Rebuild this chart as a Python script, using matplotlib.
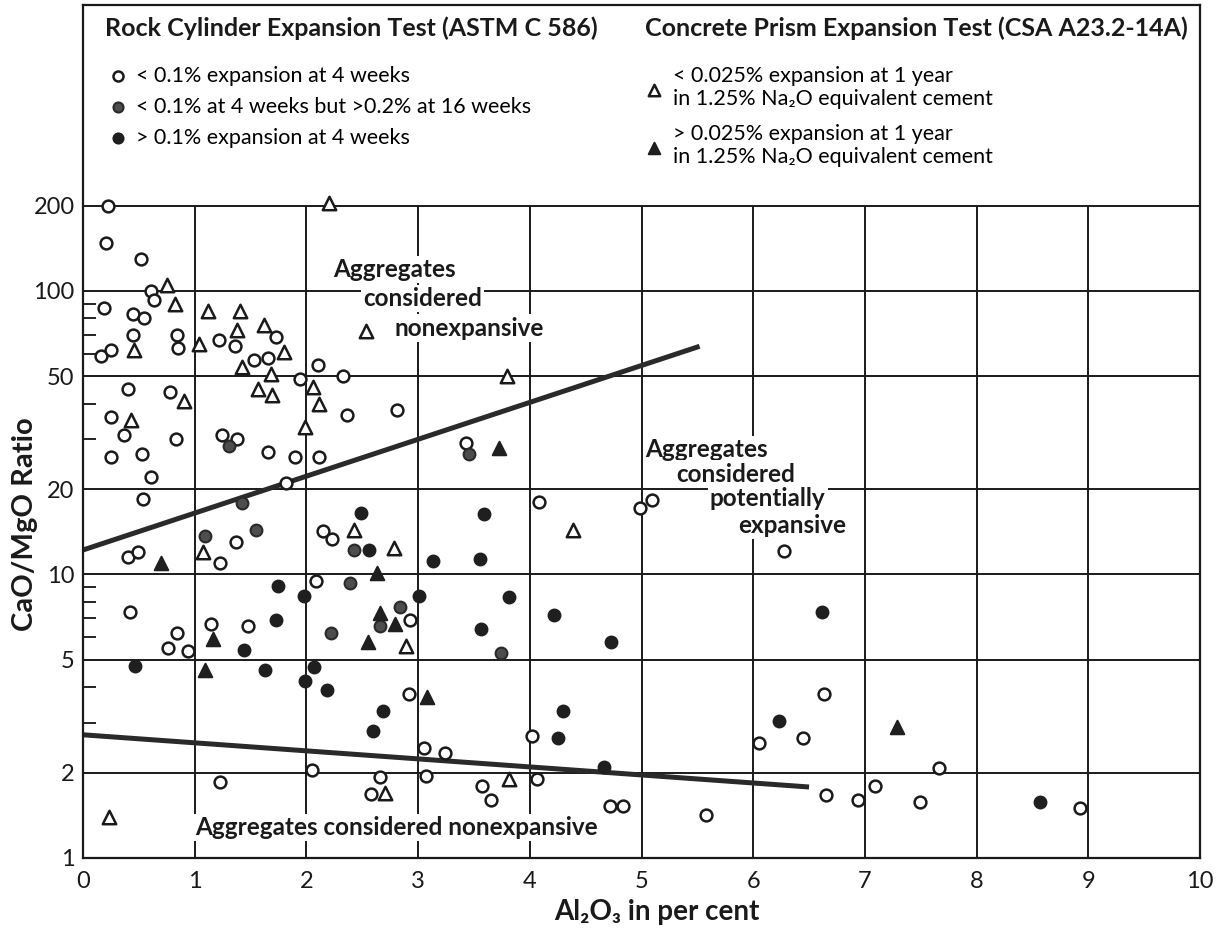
import matplotlib
matplotlib.use("Agg")
import matplotlib.pyplot as plt
from matplotlib.ticker import FixedLocator, NullFormatter

plt.rcParams['font.family'] = ['Lato', 'DejaVu Sans']

# Rock cylinder test: < 0.1% expansion at 4 weeks (open circles)
open_x = [0.22, 0.21, 0.52, 0.61, 0.64, 0.19, 0.45, 0.55, 0.45, 0.84, 0.85, 0.16, 0.25,
          1.22, 1.36, 1.73, 1.53, 1.66, 1.94, 2.10, 2.33, 0.40, 0.78, 0.25, 0.37, 0.83,
          0.25, 0.53, 0.61, 1.24, 1.38, 1.66, 1.90, 2.11, 2.36, 2.81, 1.82, 3.43, 0.54,
          0.40, 0.49, 1.23, 1.37, 2.15, 2.23, 2.09, 0.42, 0.84, 0.76, 0.94, 1.15, 1.48,
          2.93, 2.92, 4.08, 4.99, 5.09, 6.28, 1.23, 2.05, 2.66, 2.58, 3.05, 3.24, 3.07,
          3.57, 3.65, 4.02, 4.06, 4.72, 4.83, 6.63, 6.05, 6.45, 7.66, 7.09, 6.65, 6.94,
          7.49, 5.58, 8.93]
open_y = [200, 148, 130, 100, 93, 87, 83, 80, 70, 70, 63, 59, 62,
          67, 64, 69, 57, 58, 49, 55, 50, 45, 44, 36, 31, 30,
          26, 26.5, 22, 31, 30, 27, 26, 26, 36.5, 38, 21, 29, 18.5,
          11.5, 12, 11, 13, 14.2, 13.3, 9.5, 7.4, 6.2, 5.5, 5.35, 6.7, 6.6,
          6.9, 3.8, 18, 17.2, 18.3, 12.1, 1.85, 2.05, 1.93, 1.68, 2.45, 2.35, 1.95,
          1.8, 1.6, 2.7, 1.9, 1.52, 1.52, 3.8, 2.55, 2.65, 2.07, 1.8, 1.67, 1.6,
          1.58, 1.42, 1.5]

# < 0.1% at 4 weeks but > 0.2% at 16 weeks (half / grey circles)
half_x = [1.31, 3.46, 1.42, 1.09, 1.55, 2.43, 2.39, 2.22, 2.84, 2.66, 3.74]
half_y = [28.5, 26.5, 17.8, 13.7, 14.3, 12.2, 9.3, 6.2, 7.7, 6.6, 5.3]

# > 0.1% expansion at 4 weeks (filled circles)
fill_x = [2.49, 2.56, 3.59, 3.13, 3.55, 3.01, 3.81, 4.22, 3.56, 4.73, 1.75, 1.98, 1.73,
          1.44, 0.47, 1.63, 2.07, 1.99, 2.18, 2.69, 2.60, 4.30, 4.25, 4.66, 6.23, 6.62, 8.57]
fill_y = [16.5, 12.2, 16.4, 11.2, 11.3, 8.4, 8.3, 7.2, 6.4, 5.8, 9.1, 8.4, 6.9,
          5.4, 4.75, 4.6, 4.7, 4.2, 3.9, 3.3, 2.8, 3.3, 2.65, 2.1, 3.05, 7.4, 1.58]

# Concrete prism test: < 0.025% at 1 year (open triangles)
otri_x = [2.20, 0.75, 0.82, 1.12, 1.41, 1.62, 1.38, 1.04, 0.46, 1.80, 1.42, 1.68, 1.57,
          1.69, 2.06, 2.11, 0.90, 0.43, 1.99, 2.53, 3.80, 4.39, 2.43, 2.78, 1.07, 2.89,
          0.23, 2.70, 3.81]
otri_y = [205, 105, 90, 85, 85, 76, 73, 65, 62, 61, 54, 51, 45,
          43, 46, 40, 41, 35, 33, 72, 50, 14.3, 14.3, 12.4, 12, 5.6,
          1.4, 1.7, 1.9]

# > 0.025% at 1 year (filled triangles)
ftri_x = [3.72, 0.70, 2.63, 1.16, 1.09, 2.55, 2.66, 2.79, 3.08, 7.29]
ftri_y = [28, 11, 10.1, 5.9, 4.6, 5.8, 7.3, 6.7, 3.7, 2.9]

# boundary lines
upper_x = [0, 5.52]
upper_y = [12.2, 63.8]
lower_x = [0, 6.5]
lower_y = [2.72, 1.78]

xticks = [0, 1, 2, 3, 4, 5, 6, 7, 8, 9, 10]
yticks = [1, 2, 5, 10, 20, 50, 100, 200]

fig = plt.figure(figsize=(12.27, 9.36), dpi=100)
ax = fig.add_axes([83 / 1227, 1 - 858 / 936, 1117 / 1227, 853 / 936])
ax.set_yscale('log')
ax.set_xlim(0, 10)
ax.set_ylim(1, 1020)

# grid only inside the data part (up to 200)
ax.vlines(xticks[1:-1], 1, 200, color='#1a1a1a', lw=1.4, zorder=1)
ax.hlines(yticks[1:], 0, 10, color='#1a1a1a', lw=1.4, zorder=1)

ax.plot(upper_x, upper_y, color='#2a2a2a', lw=3.6, solid_capstyle='butt', zorder=2)
ax.plot(lower_x, lower_y, color='#2a2a2a', lw=3.6, solid_capstyle='butt', zorder=2)

ms = 72
h1 = ax.scatter(open_x, open_y, s=ms, marker='o', facecolor='white', edgecolor='#1a1a1a', lw=1.8, zorder=4)
h2 = ax.scatter(half_x, half_y, s=ms, marker='o', facecolor='#4d4d4d', edgecolor='#2a2a2a', lw=1.5, zorder=4)
h3 = ax.scatter(fill_x, fill_y, s=ms, marker='o', facecolor='#1f1f1f', edgecolor='#1f1f1f', lw=1.5, zorder=4)
h4 = ax.scatter(otri_x, otri_y, s=ms * 1.3, marker='^', facecolor='white', edgecolor='#1a1a1a', lw=1.8, zorder=4)
h5 = ax.scatter(ftri_x, ftri_y, s=ms * 1.3, marker='^', facecolor='#1f1f1f', edgecolor='#1f1f1f', lw=1.5, zorder=4)

# region labels
lab = dict(fontsize=17.5, fontweight='bold', color='#1a1a1a', ha='center', va='center', zorder=3,
           bbox=dict(facecolor='white', edgecolor='none', pad=1.5))
ax.text(2.79, 119, 'Aggregates', **lab)
ax.text(3.04, 94, 'considered', **lab)
ax.text(3.46, 74, 'nonexpansive', **lab)
ax.text(5.58, 27.5, 'Aggregates', **lab)
ax.text(5.84, 22.6, 'considered', **lab)
ax.text(6.13, 18.5, 'potentially', **lab)
ax.text(6.35, 14.9, 'expansive', **lab)
ax.text(2.81, 1.28, 'Aggregates considered nonexpansive', **lab)

ax.set_xticks(xticks)
ax.set_xticklabels([str(v) for v in xticks])
ax.set_yticks(yticks)
ax.set_yticklabels([str(v) for v in yticks])
ax.yaxis.set_minor_locator(FixedLocator([3, 4, 6, 7, 8, 9, 30, 40, 60, 70, 80, 90]))
ax.yaxis.set_minor_formatter(NullFormatter())
ax.tick_params(axis='both', which='major', length=0, labelsize=17, colors='#1a1a1a')
ax.tick_params(axis='x', which='major', pad=9)
ax.tick_params(axis='y', which='major', pad=6)
ax.tick_params(axis='y', which='minor', direction='in', length=9, width=1.2, left=True)
ax.tick_params(axis='x', which='minor', bottom=False)
for sp in ax.spines.values():
    sp.set_linewidth(1.6)
    sp.set_color('#1a1a1a')

# legend block at the top of the frame
ax.text(0.0197, 0.973, 'Rock Cylinder Expansion Test (ASTM C 586)', transform=ax.transAxes,
        fontsize=18, fontweight='bold', ha='left', va='center', color='#1a1a1a')
ax.text(0.503, 0.973, 'Concrete Prism Expansion Test (CSA A23.2-14A)', transform=ax.transAxes,
        fontsize=18, fontweight='bold', ha='left', va='center', color='#1a1a1a')

leg1 = ax.legend([h1, h2, h3],
                 ['< 0.1% expansion at 4 weeks',
                  '< 0.1% at 4 weeks but >0.2% at 16 weeks',
                  '> 0.1% expansion at 4 weeks'],
                 loc='upper left', bbox_to_anchor=(0.0215, 0.929), frameon=False, borderpad=0,
                 borderaxespad=0, fontsize=15.5, handlelength=1.0, handletextpad=0.35,
                 labelspacing=0.51, markerscale=0.85)
ax.add_artist(leg1)
leg2 = ax.legend([h4, h5],
                 ['< 0.025% expansion at 1 year\nin 1.25% Na\u2082O equivalent cement',
                  '> 0.025% expansion at 1 year\nin 1.25% Na\u2082O equivalent cement'],
                 loc='upper left', bbox_to_anchor=(0.502, 0.929), frameon=False, borderpad=0,
                 borderaxespad=0, fontsize=15.5, handlelength=1.0, handletextpad=0.35,
                 labelspacing=0.69, markerscale=0.85)
for t in leg2.get_texts():
    t.set_linespacing(1.2)

fig.text(25 / 1227, 1 - 524 / 936, 'CaO/MgO Ratio', rotation=90, fontsize=21, fontweight='bold',
         ha='center', va='center', color='#1a1a1a')
fig.text(657 / 1227, 1 - 912 / 936, 'Al\u2082O\u2083 in per cent', fontsize=20, fontweight='bold',
         ha='center', va='center', color='#1a1a1a')

fig.savefig('out.png', dpi=100)
